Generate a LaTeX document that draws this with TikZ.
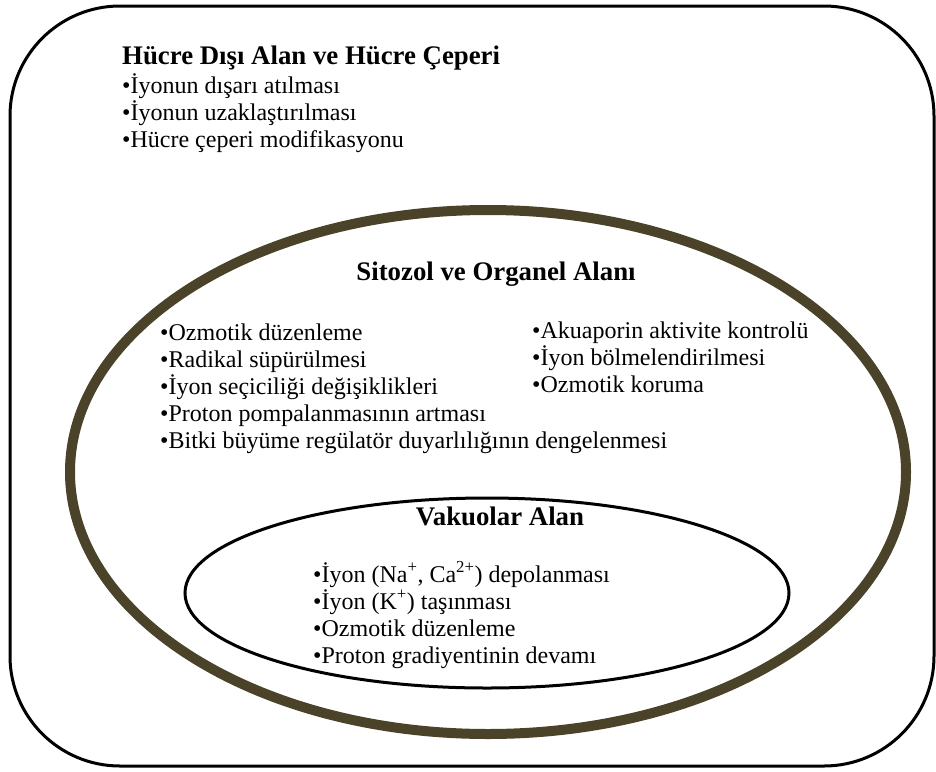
\documentclass[tikz,border=0pt]{standalone}
\usepackage{fontspec}
\setmainfont{Liberation Serif}
\definecolor{zarf}{RGB}{74,67,42}

\begin{document}
\begin{tikzpicture}[x=1pt, y=-1pt,
    baslik/.style={font=\fontsize{26.8}{30}\selectfont\bfseries, inner sep=0pt},
    madde/.style={font=\fontsize{24}{27}\selectfont, align=left, inner sep=0pt, anchor=base west}]
    \useasboundingbox (0,0) rectangle (936,771);
    \draw[line width=3pt, rounded corners=110pt] (10,6) rectangle (934,766);
    \draw[line width=10pt, zarf] (488,472) ellipse (418 and 262);
    \draw[line width=3pt] (487,593) ellipse (302 and 95);

    % base of a list node = baseline of its last line
    \node[baslik, anchor=base west] (disbaslik) at (122,64) {Hücre Dışı Alan ve Hücre Çeperi};
    \node[madde] (dismadde) at (122,147) {•İyonun dışarı atılması\\•İyonun uzaklaştırılması\\•Hücre çeperi modifikasyonu};

    \node[baslik, anchor=base] (sitobaslik) at (496,280) {Sitozol ve Organel Alanı};
    \node[madde] (sitosol) at (160,448) {•Ozmotik düzenleme\\•Radikal süpürülmesi\\•İyon seçiciliği değişiklikleri\\•Proton pompalanmasının artması\\•Bitki büyüme regülatör duyarlılığının dengelenmesi};
    \node[madde] (sitosag) at (532,392) {•Akuaporin aktivite kontrolü\\•İyon bölmelendirilmesi\\•Ozmotik koruma};

    \node[baslik, anchor=base] (vakbaslik) at (500,525) {Vakuolar Alan};
    \node[madde] (vakmadde) at (313,663) {•İyon (Na\textsuperscript{+}, Ca\textsuperscript{2+}) depolanması\\•İyon (K\textsuperscript{+}) taşınması\\•Ozmotik düzenleme\\•Proton gradiyentinin devamı};
\end{tikzpicture}
\end{document}
